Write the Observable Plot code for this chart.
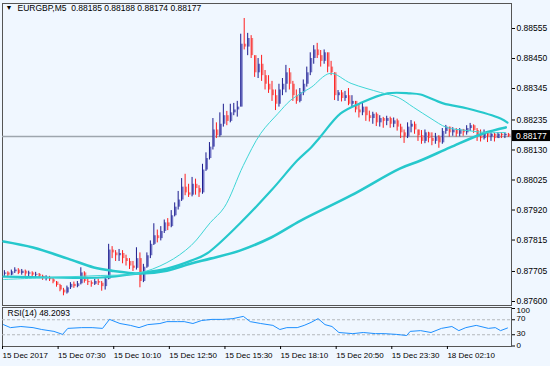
<!DOCTYPE html>
<html><head><meta charset="utf-8">
<script src="https://cdn.jsdelivr.net/npm/d3@7"></script>
<script src="https://cdn.jsdelivr.net/npm/@observablehq/plot@0.6"></script>
<style>
html,body{margin:0;padding:0;background:#f0f7ff;}
#chart{position:relative;width:550px;height:366px;overflow:hidden;background:#f0f7ff;}
#chart svg{position:absolute;left:0;}
</style></head><body><div id="chart"></div>
<script>
// ---- data (prices in points of 0.00001 above base 0.87600) ----
const base = 0.876, pip = 0.00001;
const firstOpen = 95;
const barClose = [100,92,104,110,98,106,96,100,92,95, 88,80,84,76,68,56,40,30,48,60,
  52,62,100,70,66,60,70,64,52,78, 180,170,160,168,150,140,124,116,150,70,
  120,160,200,230,220,245,275,262,300,330, 355,400,380,372,410,395,380,460,500,540,
  600,580,620,650,630,660,670,680,900,890, 920,860,800,830,790,760,740,720,690,740,
  760,800,760,720,700,730,760,800,850,880, 860,840,870,820,800,720,730,710,720,690,
  700,670,660,680,650,640,655,625,640,630, 640,620,632,610,590,575,610,620,600,580,
  560,590,570,560,575,555,595,610,590,600, 585,600,590,605,615,598,580,570,590,575,
  585,570,585,580,585,577];
const barHigh = [108,104,110,118,115,112,110,106,104,102, 98,92,90,88,82,70,60,46,54,66,
  68,70,118,104,80,72,78,78,70,84, 200,192,178,182,178,162,150,140,188,170,
  130,170,212,272,250,262,285,290,318,345, 385,430,445,410,434,428,405,480,520,556,
  640,625,660,690,665,690,693,700,935,990, 938,930,860,850,861,808,790,770,740,760,
  780,826,815,770,740,745,775,820,870,895, 903,878,880,860,840,800,738,738,735,745,
  720,700,690,695,668,666,662,660,650,644, 648,645,642,638,620,600,625,633,628,600,
  598,600,592,590,588,580,605,616,605,608, 605,605,602,615,623,618,605,600,600,591,
  590,588,591,590,588,588];
const barLow = [88,86,90,98,94,92,88,84,86,84, 80,74,72,70,62,50,34,20,26,42,
  46,48,58,64,56,50,56,56,36,40, 76,150,140,140,132,124,112,105,110,48,
  66,116,150,196,205,212,238,248,258,296, 320,350,370,364,366,372,364,375,455,495,
  530,570,575,610,615,625,650,645,680,880, 860,850,784,780,770,740,728,700,668,680,
  720,730,740,700,690,695,720,750,790,830, 850,820,830,800,790,703,700,698,700,685,
  680,660,642,650,630,628,620,612,610,606, 615,606,608,596,570,553,570,590,585,560,
  550,552,555,545,550,536,550,585,575,578, 575,576,578,582,595,588,560,558,565,556,
  560,558,572,570,570,574];

const slowSlot = [0,17,37,52,62,79,94,108,119,136,154,171,200,228,240,257,276,289];
const slowVal  = [210,189,150,119,108,98,108,133,150,178,224,283,371,465,493,539,588,609];
const medSlot  = [0,27,56,77,94,108,117,136,154,169,177,182,194,205,221,234,240,253,267,286,290];
const medVal   = [87,84,84,98,115,143,168,273,388,493,539,574,658,693,728,728,724,693,675,640,626];
const fastSlot = [0,27,56,77,94,108,119,127,138,148,158,165,171,177,188,200,217,227,236,246,255,267,278,289];
const fastVal  = [77,84,91,98,136,196,276,329,476,588,658,703,728,749,798,763,731,714,679,640,609,598,591,591];

const rsiSlot = [0,4,10,17,22,29,34,37,45,51,57,61,67,73,78,83,90,94,100,104,109,114,120,126,132,138,142,148,155,159,
  163,169,173,177,181,185,189,193,201,207,214,219,226,232,234,240,246,252,258,262,266,272,279,283,286,290];
const rsiVal = [57,49,52,49,44,39,31,47,49,49,47,71,60,55,49,57,60,65,65,65,60,68,71,71,73,79,65,60,55,44,
  49,49,55,63,73,57,52,36,33,36,33,33,31,28,39,41,36,47,52,41,49,55,47,49,41,48];
const rsiLabel = "RSI(14) 48.2093";

const priceTicks = [0.88555,0.88450,0.88345,0.88235,0.88130,0.88025,0.87920,0.87815,0.87705,0.87600];
const timeSlots  = [0,32,64,96,128,160,192,224,256];
const timeLabels = ["15 Dec 2017","15 Dec 07:30","15 Dec 10:10","15 Dec 12:50","15 Dec 15:30",
  "15 Dec 18:10","15 Dec 20:50","15 Dec 23:30","18 Dec 02:10"];
const rsiLevels = [100,70,30,0];

// ---- tables ----
const P = v => base + v * pip;
const bars = barClose.map((c, k) => {
  const o = k === 0 ? firstOpen : barClose[k - 1];
  const h = Math.max(barHigh[k], o, c), l = Math.min(barLow[k], o, c);
  const up = c > o, doji = c === o;
  return {slot: 2 * k + 0.5, open: P(o), close: P(c), high: P(h), low: P(l),
    wick: doji ? "#22cc22" : up ? "#1c1c8e" : "#ff1e1e",
    body: doji ? "#44dd44" : up ? "#7377c6" : "#f28080"};
});
const line = (s, v) => s.map((x, i) => ({slot: x, price: P(v[i])}));
const slow = line(slowSlot, slowVal), med = line(medSlot, medVal), fast = line(fastSlot, fastVal);
const rsi = rsiSlot.map((x, i) => ({slot: x, v: rsiVal[i]}));
const last = bars[bars.length - 1];
const f5 = d3.format(".5f");
const header = `EURGBP,M5\u00a0\u00a0${f5(last.open)} ${f5(last.high)} ${f5(last.low)} ${f5(last.close)}`;

const FONT = "'Liberation Sans', Arial, sans-serif";
const X = {domain: [0, 290], range: [3, 507]};
const teal = "#26c8cc";

const main = Plot.plot({
  width: 550, height: 306, marginTop: 3, marginBottom: 1, marginLeft: 2, marginRight: 39,
  x: {...X, axis: null},
  y: {domain: [0.876, 0.88555], range: [301, 28]},
  color: {type: "identity"},
  style: {background: "transparent", fontFamily: FONT, fontSize: "8.5px", color: "#000", overflow: "visible"},
  marks: [
    Plot.frame({stroke: "#555", strokeWidth: 1}),
    Plot.ruleY([last.close], {stroke: "#9ea6ae", strokeWidth: 1.5}),
    Plot.ruleX(bars, {x: "slot", y1: "open", y2: "close", stroke: "body", strokeWidth: 2, dx: 1}),
    Plot.ruleX(bars, {x: "slot", y1: "low", y2: "high", stroke: "wick", strokeWidth: 1}),
    Plot.line(slow, {x: "slot", y: "price", stroke: teal, strokeWidth: 2.6, curve: "catmull-rom"}),
    Plot.line(med, {x: "slot", y: "price", stroke: teal, strokeWidth: 2.2, curve: "catmull-rom"}),
    Plot.line(fast, {x: "slot", y: "price", stroke: "#3fd6d6", strokeWidth: 1, curve: "catmull-rom"}),
    Plot.axisY(priceTicks, {anchor: "right", tickSize: 3, tickPadding: 2, tickFormat: f5, fontSize: 8.5, label: null}),
    Plot.text(["\u25BC"], {frameAnchor: "top-left", dx: 3, dy: 2, fontSize: 7, textAnchor: "start", lineAnchor: "top", fill: "#000"}),
    Plot.text([header], {frameAnchor: "top-left", dx: 15, dy: 1, textAnchor: "start", lineAnchor: "top", fill: "#000"}),
    (index, scales, values, dims) => {
      const y = scales.y(last.close);
      const x0 = dims.width - dims.marginRight + 1;
      const g = d3.create("svg:g");
      g.append("rect").attr("x", x0).attr("y", y - 6).attr("width", dims.marginRight - 1).attr("height", 11).attr("fill", "#000");
      g.append("text").attr("x", x0 + 4).attr("y", y).attr("dy", "0.35em").attr("fill", "#fff")
        .attr("text-anchor", "start").attr("font-family", FONT).attr("font-size", 8.5).text(f5(last.close));
      return g.node();
    }
  ]
});
main.style.top = "0px";

const labelMap = new Map(timeSlots.map((s, i) => [s, timeLabels[i]]));
const lower = Plot.plot({
  width: 550, height: 61, marginTop: 2, marginBottom: 20, marginLeft: 2, marginRight: 39,
  x: X,
  y: {domain: [0, 100], range: [40.5, 3]},
  style: {background: "transparent", fontFamily: FONT, fontSize: "8px", color: "#000", overflow: "visible"},
  marks: [
    Plot.frame({stroke: "#555", strokeWidth: 1}),
    Plot.ruleY([70, 30], {stroke: "#b4b8bc", strokeDasharray: "3,2"}),
    Plot.line(rsi, {x: "slot", y: "v", stroke: "#1e90ff", strokeWidth: 1}),
    Plot.text([rsiLabel], {frameAnchor: "top-left", dx: 5, dy: 2, textAnchor: "start", lineAnchor: "top", fill: "#000", fontSize: 8.5}),
    Plot.axisY(rsiLevels, {anchor: "right", tickSize: 3, tickFormat: () => "", label: null}),
    Plot.text(rsiLevels.slice(1, 3), {y: d => d, frameAnchor: "right", dx: 5, dy: [-1], textAnchor: "start", fill: "#000"}),
    Plot.text(rsiLevels.slice(0, 1), {y: d => d, frameAnchor: "right", dx: 5, dy: 2, textAnchor: "start", fill: "#000"}),
    Plot.text(rsiLevels.slice(3), {y: d => d, frameAnchor: "right", dx: 5, dy: -1, textAnchor: "start", fill: "#000"}),
    Plot.axisX(timeSlots, {anchor: "bottom", tickSize: 3, tickPadding: 3, tickFormat: d => labelMap.get(d), textAnchor: "start", dx: -1, fontSize: 8, label: null})
  ]
});
lower.style.top = "305px";

const root = document.getElementById("chart");
root.append(main, lower);
</script>
</body></html>
